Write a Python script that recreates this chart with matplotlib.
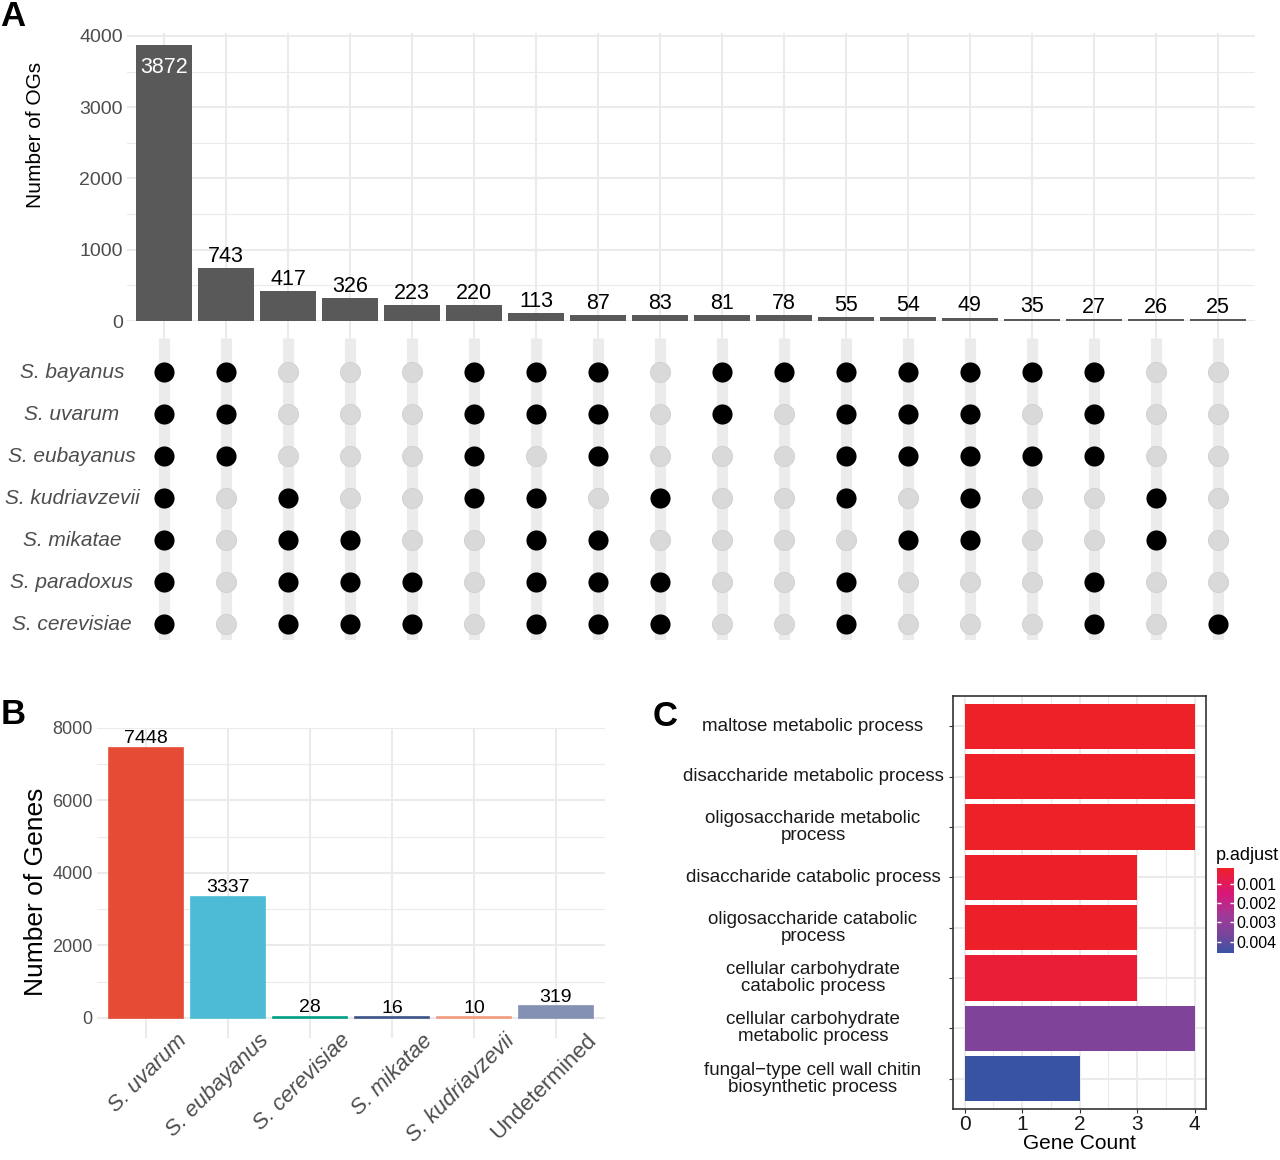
import matplotlib
matplotlib.use("Agg")
import matplotlib.pyplot as plt
import numpy as np
from matplotlib import font_manager
from matplotlib.colors import LinearSegmentedColormap, Normalize
from matplotlib.cm import ScalarMappable
from matplotlib.transforms import blended_transform_factory, ScaledTranslation

# ---- data ----
set_names = ['S. bayanus', 'S. uvarum', 'S. eubayanus', 'S. kudriavzevii',
             'S. mikatae', 'S. paradoxus', 'S. cerevisiae']
set_keys = ['bay', 'uva', 'eub', 'kud', 'mik', 'par', 'cer']
og_counts = [3872, 743, 417, 326, 223, 220, 113, 87, 83, 81, 78, 55, 54, 49, 35, 27, 26, 25]
og_members = [
    ['bay', 'uva', 'eub', 'kud', 'mik', 'par', 'cer'],
    ['bay', 'uva', 'eub'],
    ['kud', 'mik', 'par', 'cer'],
    ['mik', 'par', 'cer'],
    ['par', 'cer'],
    ['bay', 'uva', 'eub', 'kud'],
    ['bay', 'uva', 'kud', 'mik', 'par', 'cer'],
    ['bay', 'uva', 'eub', 'mik', 'par', 'cer'],
    ['kud', 'par', 'cer'],
    ['bay', 'uva'],
    ['bay'],
    ['bay', 'uva', 'eub', 'kud', 'par', 'cer'],
    ['bay', 'uva', 'eub', 'mik'],
    ['bay', 'uva', 'eub', 'kud', 'mik'],
    ['bay', 'eub'],
    ['bay', 'uva', 'eub', 'par', 'cer'],
    ['kud', 'mik'],
    ['cer'],
]

origin_names = ['S. uvarum', 'S. eubayanus', 'S. cerevisiae', 'S. mikatae',
                'S. kudriavzevii', 'Undetermined']
gene_counts = [7448, 3337, 28, 16, 10, 319]
origin_colors = ['#E64B35', '#4DBBD5', '#00A087', '#3C5488', '#F39B7F', '#8491B4']

go_terms = ['maltose metabolic process',
            'disaccharide metabolic process',
            'oligosaccharide metabolic\nprocess',
            'disaccharide catabolic process',
            'oligosaccharide catabolic\nprocess',
            'cellular carbohydrate\ncatabolic process',
            'cellular carbohydrate\nmetabolic process',
            'fungal\u2212type cell wall chitin\nbiosynthetic process']
go_counts = [4, 4, 4, 3, 3, 3, 4, 2]
go_padj = [0.00016, 0.00016, 0.00016, 0.0002, 0.0002, 0.0004, 0.0035, 0.0046]

# ---- fonts ----
names = {f.name for f in font_manager.fontManager.ttflist}
narrow = 'Liberation Sans Narrow' if 'Liberation Sans Narrow' in names else 'Liberation Sans'
plt.rcParams['font.family'] = [narrow, 'Liberation Sans', 'DejaVu Sans']
regular = ['Liberation Sans', 'DejaVu Sans']

W, H = 1280, 1160
fig = plt.figure(figsize=(W / 100, H / 100), dpi=100)


def px_axes(x0, y0, x1, y1):
    return fig.add_axes([x0 / W, 1 - y1 / H, (x1 - x0) / W, (y1 - y0) / H])


grid_c = '#EBEBEB'

# ---- panel A: intersection bars ----
xs = np.arange(len(og_counts))
axa = px_axes(127, 33, 1255, 321)
axa.set_xlim(-0.6, len(og_counts) - 0.4)
axa.set_ylim(0, 4042)
axa.bar(xs, og_counts, width=0.9, color='#595959', zorder=3)
for i, v in enumerate(og_counts):
    if i == 0:
        axa.text(i, v - 170, str(v), ha='center', va='top', color='white', fontsize=15.5)
    else:
        axa.text(i, v + 15, str(v), ha='center', va='bottom', color='black', fontsize=15.5)
axa.set_yticks(np.arange(0, 4001, 1000))
axa.set_yticks(np.arange(500, 4000, 1000), minor=True)
axa.set_xticks(xs)
axa.set_xticklabels([])
axa.grid(which='major', color=grid_c, lw=1.5, zorder=0)
axa.grid(which='minor', axis='y', color=grid_c, lw=0.8, zorder=0)
axa.tick_params(axis='y', which='both', length=0, labelsize=14, labelcolor='#4D4D4D', pad=3)
axa.tick_params(axis='x', length=14, width=1.5, color=grid_c, pad=0)
for s in axa.spines.values():
    s.set_visible(False)
fig.text(36 / W, 1 - 135 / H, 'Number of OGs', rotation=90, ha='center', va='center',
         fontsize=15, color='black')

# ---- panel A: membership matrix ----
axm = px_axes(127, 338, 1255, 640)
axm.set_xlim(-0.6, len(og_counts) - 0.4)
axm.set_ylim(-0.38, 6.81)
row_y = {k: 6 - i for i, k in enumerate(set_keys)}
axm.vlines(xs, -0.38, 6.81, color=grid_c, lw=8, zorder=0)
for i, mem in enumerate(og_members):
    for k in set_keys:
        if k in mem:
            axm.scatter(i, row_y[k], s=210, color='black', zorder=3, linewidths=0)
        else:
            axm.scatter(i, row_y[k], s=210, color='#D9D9D9', edgecolors='#CFCFCF',
                        linewidths=0.6, zorder=2)
axm.axis('off')
lab_tr = blended_transform_factory(fig.transFigure, axm.transData)
for i, nm in enumerate(set_names):
    axm.text(72 / W, 6 - i, nm, transform=lab_tr, ha='center', va='center',
             fontsize=15, style='italic', color='#4D4D4D')

# ---- panel B ----
axb = px_axes(97, 728, 605, 1024)
xb = np.arange(len(gene_counts))
axb.set_xlim(-0.6, len(gene_counts) - 0.4)
axb.set_ylim(-170, 8000)
axb.bar(xb, gene_counts, width=0.9, color=origin_colors, edgecolor=origin_colors,
        linewidth=1.2, zorder=3)
for i, v in enumerate(gene_counts):
    axb.text(i, v + 20, str(v), ha='center', va='bottom', fontsize=14, color='black')
axb.set_yticks(np.arange(0, 8001, 2000))
axb.set_yticks(np.arange(1000, 8000, 2000), minor=True)
axb.set_xticks(xb)
axb.set_xticklabels([])
xlab_tr = blended_transform_factory(axb.transData, axb.transAxes) + \
    ScaledTranslation(30 / 100, -6 / 100, fig.dpi_scale_trans)
for i, nm in enumerate(origin_names):
    axb.text(i, 0, nm, transform=xlab_tr, rotation=45, ha='right', va='top',
             rotation_mode='anchor', family=regular, fontsize=16, color='#4D4D4D',
             style='italic' if nm.startswith('S.') else 'normal')
axb.grid(which='major', color=grid_c, lw=1.5, zorder=0)
axb.grid(which='minor', axis='y', color=grid_c, lw=0.8, zorder=0)
axb.tick_params(axis='y', which='both', length=0, labelsize=13, labelcolor='#4D4D4D', pad=3)
axb.tick_params(axis='x', length=10, width=1.5, color=grid_c, pad=4)
for s in axb.spines.values():
    s.set_visible(False)
fig.text(36.5 / W, 1 - 892 / H, 'Number of Genes', rotation=90, ha='center', va='center',
         fontsize=19, family=regular, color='black')

# ---- panel C ----
cmap = LinearSegmentedColormap.from_list(
    'padj', [(0.0, '#EE2028'), (0.3, '#D9177A'), (0.55, '#A23897'),
             (0.78, '#7A459A'), (1.0, '#3953A4')])
norm = Normalize(vmin=min(go_padj), vmax=max(go_padj))
axc = px_axes(953, 696, 1206, 1109)
yc = np.arange(len(go_terms))
axc.barh(yc, go_counts, height=0.9, color=[cmap(norm(p)) for p in go_padj], zorder=3)
axc.set_xlim(-0.2, 4.2)
axc.set_ylim(len(go_terms) - 0.4, -0.6)
axc.set_xticks(np.arange(0, 5))
axc.set_xticks(np.arange(0.5, 4, 1), minor=True)
axc.set_yticks(yc)
axc.set_yticklabels([])
axc.grid(which='major', color=grid_c, lw=1.5, zorder=0)
axc.grid(which='minor', axis='x', color=grid_c, lw=0.8, zorder=0)
axc.tick_params(axis='x', which='major', length=3, color='#333333', labelsize=15,
                labelcolor='#1A1A1A', pad=1)
axc.tick_params(axis='x', which='minor', length=0)
axc.tick_params(axis='y', length=3, color='#333333')
for t in axc.get_xticklabels():
    t.set_family(regular)
for s in axc.spines.values():
    s.set_color('#333333')
    s.set_linewidth(1.2)
axc.set_xlabel('Gene Count', fontsize=15, family=regular, labelpad=0)
go_tr = blended_transform_factory(fig.transFigure, axc.transData)
for i, term in enumerate(go_terms):
    axc.text(813 / W, i, term, transform=go_tr, ha='center', va='center',
             fontsize=13.5, color='#1A1A1A', linespacing=1.0)

cax = px_axes(1217, 868, 1234, 953)
cb = fig.colorbar(ScalarMappable(norm=norm, cmap=cmap), cax=cax)
cax.invert_yaxis()
cb.set_ticks([0.001, 0.002, 0.003, 0.004])
cb.set_ticklabels(['0.001', '0.002', '0.003', '0.004'])
cb.outline.set_visible(False)
cax.tick_params(length=3, color='white', width=1, labelsize=11.5, pad=2, direction='in',
                left=True, right=True)
fig.text(1216 / W, 1 - 855 / H, 'p.adjust', ha='left', va='center', fontsize=13)

# ---- panel letters ----
for lab, x, y in [('A', 13, 17), ('B', 13, 714), ('C', 665, 716)]:
    fig.text(x / W, 1 - y / H, lab, ha='center', va='center', fontsize=25,
             fontweight='bold', family=regular)

fig.savefig('out.png', dpi=100)
